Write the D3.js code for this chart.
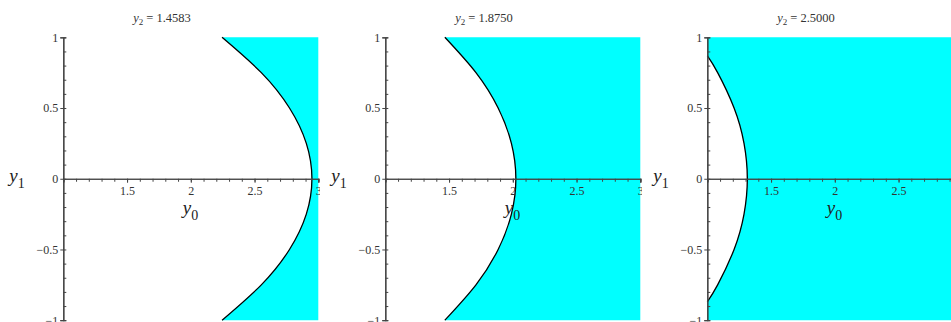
<!DOCTYPE html>
<html>
<head>
<meta charset="utf-8">
<script src="https://cdn.jsdelivr.net/npm/d3@7"></script>
<style>
  body { margin: 0; background: #fff; }
  svg { display: block; }
</style>
</head>
<body>
<div id="chart"></div>
<script>
var svgWidth = 951;
var svgHeight = 322;
var serif = "'Liberation Serif', 'Times New Roman', Times, serif";

// values of y2 shown above each panel
var y2Labels = ["1.4583", "1.8750", "2.5000"];

// boundary curves (y1 -> y0)
var y1Full = [-1, -0.75, -0.5, -0.25, 0, 0.25, 0.5, 0.75, 1];
var boundary1 = [2.245, 2.553, 2.774, 2.906, 2.95, 2.906, 2.774, 2.553, 2.245];
var boundary2 = [1.467, 1.711, 1.885, 1.989, 2.024, 1.989, 1.885, 1.711, 1.467];
var y1Short = [-0.87, -0.75, -0.5, -0.25, 0, 0.25, 0.5, 0.75, 0.87];
var boundary3 = [1.0, 1.081, 1.21, 1.288, 1.314, 1.288, 1.21, 1.081, 1.0];

var xDomain = [1, 3];
var yDomain = [-1, 1];
var xTicks = [1.5, 2, 2.5, 3];
var yTicks = [-1, -0.5, 0, 0.5, 1];

var panels = [
    { title: y2Labels[0], y1: y1Full, y0: boundary1, close: [[3, 1], [3, -1]] },
    { title: y2Labels[1], y1: y1Full, y0: boundary2, close: [[3, 1], [3, -1]] },
    { title: y2Labels[2], y1: y1Short, y0: boundary3, close: [[1, 1], [3, 1], [3, -1], [1, -1]] }
];

var panelStep = 322;
var panelClip = 320;

var x = d3.scaleLinear().domain(xDomain).range([63.3, 318.3]);
var y = d3.scaleLinear().domain(yDomain).range([320.2, 37.3]);

var svg = d3.select("#chart")
    .append("svg")
    .attr("width", svgWidth)
    .attr("height", svgHeight);

var fmt = function(d) {
    return d3.format("")(d).replace("-", "\u2212");
};

panels.forEach(function(p, i) {
    var clipId = "clip" + i;
    svg.append("clipPath").attr("id", clipId)
        .append("rect")
        .attr("x", 0).attr("y", 0)
        .attr("width", panelClip).attr("height", svgHeight);

    var g = svg.append("g")
        .attr("transform", `translate(${i * panelStep}, 0)`)
        .attr("clip-path", `url(#${clipId})`);

    var pts = p.y1.map(function(v, k) { return [p.y0[k], v]; });

    var line = d3.line()
        .x(d => x(d[0]))
        .y(d => y(d[1]))
        .curve(d3.curveNatural);

    var curvePath = line(pts);
    var fillPath = curvePath + p.close.map(function(c) {
        return "L" + x(c[0]) + "," + y(c[1]);
    }).join("") + "Z";

    g.append("path")
        .attr("d", fillPath)
        .attr("fill", "#00ffff")
        .attr("stroke", "none");

    g.append("path")
        .attr("d", curvePath)
        .attr("fill", "none")
        .attr("stroke", "#000")
        .attr("stroke-width", 1.3);

    // y axis: minor ticks to the right, major ticks to the left
    var yMinor = d3.range(-10, 11).map(d => d / 10);
    g.append("g")
        .attr("transform", `translate(${x(xDomain[0])},0)`)
        .call(d3.axisRight(y).tickValues(yMinor).tickSize(3).tickFormat(""));
    g.append("g")
        .attr("transform", `translate(${x(xDomain[0])},0)`)
        .call(d3.axisLeft(y).tickValues(yTicks).tickSize(3).tickPadding(2).tickFormat(fmt));

    // x axis along y1 = 0
    var xMinor = d3.range(10, 31).map(d => d / 10);
    g.append("g")
        .attr("transform", `translate(0,${y(0)})`)
        .call(d3.axisBottom(x).tickValues(xMinor).tickSize(3).tickFormat(""));
    g.append("g")
        .attr("transform", `translate(0,${y(0)})`)
        .call(d3.axisBottom(x).tickValues(xTicks).tickSize(4).tickPadding(4).tickFormat(fmt));

    g.selectAll(".domain").attr("stroke", "#444").attr("stroke-width", 1.2);
    g.selectAll(".tick line").attr("stroke", "#444");
    g.selectAll(".tick text")
        .style("font-family", serif)
        .style("font-size", "12px")
        .attr("fill", "#333");

    // title
    var t = g.append("text")
        .attr("x", 162).attr("y", 22)
        .attr("text-anchor", "middle")
        .style("font-family", serif)
        .style("font-size", "12.5px")
        .attr("fill", "#333");
    t.append("tspan").style("font-style", "italic").text("y");
    t.append("tspan").attr("dy", 3).style("font-size", "9px").text("2");
    t.append("tspan").attr("dy", -3).text(" = " + p.title);

    // axis labels
    var ly = g.append("text")
        .attr("x", x(xDomain[0]) - 54).attr("y", 182)
        .style("font-family", serif)
        .style("font-size", "19px")
        .attr("fill", "#222");
    ly.append("tspan").style("font-style", "italic").text("y");
    ly.append("tspan").attr("dy", 6).style("font-size", "14px").text("1");

    var lx = g.append("text")
        .attr("x", x(2) - 8).attr("y", 214)
        .style("font-family", serif)
        .style("font-size", "19px")
        .attr("fill", "#222");
    lx.append("tspan").style("font-style", "italic").text("y");
    lx.append("tspan").attr("dy", 6).style("font-size", "14px").text("0");
});
</script>
</body>
</html>
